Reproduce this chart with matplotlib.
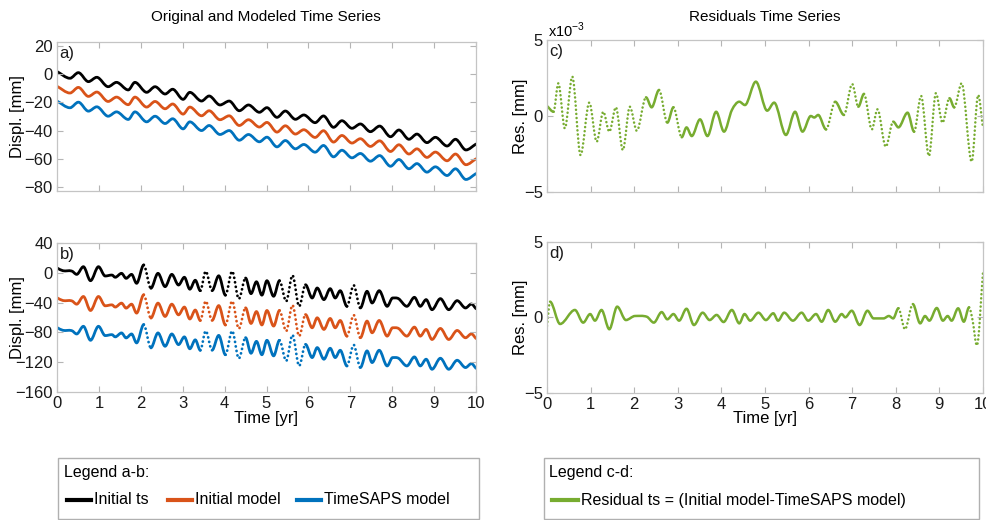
import numpy as np
import matplotlib
matplotlib.use("Agg")
import matplotlib.pyplot as plt
from matplotlib.path import Path
from matplotlib.patches import PathPatch, Rectangle
from matplotlib.lines import Line2D

plt.rcParams['font.family'] = ['Liberation Sans', 'DejaVu Sans']

# ---- values (turning points of each curve) ----
# a) initial ts [mm]; the two models are the same curve shifted down
time_a = [0.00, 0.31, 0.51, 0.75, 0.95, 1.22, 1.42, 1.70, 1.86, 2.14, 2.34, 2.58,
          2.76, 3.01, 3.17, 3.45, 3.63, 3.89, 4.11, 4.35, 4.57, 4.83, 5.01, 5.25,
          5.45, 5.69, 5.89, 6.16, 6.36, 6.60, 6.80, 7.04, 7.24, 7.48, 7.70, 7.96,
          8.16, 8.40, 8.59, 8.83, 9.03, 9.31, 9.51, 9.76, 10.0]
ts_a = [2.0, -2.8, 1.2, -5.2, -2.1, -8.8, -5.7, -11.1, -5.7, -12.8, -8.8, -14.0,
        -10.6, -17.8, -12.8, -19.0, -15.4, -21.8, -19.0, -25.9, -21.8, -27.0, -23.7, -30.6,
        -26.1, -32.0, -28.9, -34.4, -29.6, -37.7, -33.0, -38.4, -35.3, -40.8, -36.8, -44.4,
        -39.6, -46.2, -42.5, -48.6, -44.8, -51.0, -46.2, -53.8, -49.6]
shift_a = [0, -10.5, -21]

# b) initial ts [mm]
time_b = [0.00, 0.14, 0.35, 0.47, 0.63, 0.80, 0.99, 1.15, 1.31, 1.39, 1.54, 1.65,
          1.78, 1.90, 2.07, 2.24, 2.41, 2.58, 2.74, 2.90, 3.04, 3.17, 3.30, 3.42,
          3.55, 3.70, 3.86, 4.02, 4.18, 4.34, 4.50, 4.63, 4.76, 4.89, 5.01, 5.17,
          5.31, 5.47, 5.62, 5.78, 5.93, 6.09, 6.21, 6.37, 6.52, 6.64, 6.76, 6.92,
          7.08, 7.24, 7.40, 7.52, 7.69, 7.88, 8.01, 8.15, 8.35, 8.53, 8.67, 8.81,
          8.95, 9.15, 9.35, 9.55, 9.75, 9.89, 10.0]
ts_b = [6.5, 2.8, 2.4, -2.1, 8.2, -10.6, 8.2, -4.3, -3.0, -6.0, -0.7, -7.4,
        -2.1, -14.1, 10.5, -20.8, -0.7, -18.6, -2.1, -16.4, -6.0, -22.0, -10.0, -24.0,
        2.0, -24.0, -4.0, -30.0, 2.0, -35.0, -7.0, -28.0, -12.0, -30.0, -10.6, -31.5,
        -10.6, -38.3, -3.4, -45.0, -16.0, -33.8, -20.4, -36.0, -21.3, -33.8, -24.0, -45.0,
        -16.8, -47.2, -24.8, -40.5, -24.0, -45.0, -33.8, -34.7, -45.0, -32.9, -45.0, -36.0,
        -49.5, -34.7, -49.5, -37.4, -47.2, -41.9, -48.2]
shift_b = [0, -40, -80]

# c) residual ts [x10^-3 mm]
time_c = [0.00, 0.15, 0.26, 0.41, 0.58, 0.77, 0.97, 1.14, 1.29, 1.43, 1.58, 1.74,
          1.90, 2.06, 2.27, 2.40, 2.57, 2.76, 2.90, 3.09, 3.20, 3.32, 3.51, 3.68,
          3.88, 4.06, 4.24, 4.41, 4.54, 4.79, 5.05, 5.21, 5.48, 5.69, 5.86, 6.05,
          6.13, 6.22, 6.40, 6.61, 6.81, 7.00, 7.14, 7.27, 7.45, 7.58, 7.77, 7.94,
          8.06, 8.27, 8.42, 8.58, 8.76, 8.92, 9.07, 9.23, 9.34, 9.51, 9.74, 9.89, 10.0]
res_c = [0.66, 0.28, 2.15, -0.81, 2.59, -2.57, 0.88, -1.69, 0.28, -1.03, 0.57, -2.24,
         0.61, -0.97, 1.23, 0.57, 1.71, -0.44, 0.57, -1.40, -0.75, -1.32, -0.22, -1.32,
         0.28, -1.03, 0.39, 0.94, 0.72, 2.26, 0.35, 0.88, -1.25, 0.28, -1.03, 0.00,
         -0.10, 0.07, -0.88, 0.94, 0.07, 2.10, 0.61, 1.45, -0.88, 0.44, -2.02, -0.37,
         -0.75, 0.22, -1.03, 1.32, -2.63, 1.50, -0.44, 1.17, 0.57, 2.15, -3.00, 1.38, -0.81]

# d) residual ts [mm]
time_d = [0.00, 0.07, 0.30, 0.64, 0.83, 0.99, 1.10, 1.25, 1.43, 1.61, 1.81, 2.02,
          2.29, 2.45, 2.63, 2.76, 2.90, 3.03, 3.20, 3.37, 3.57, 3.73, 3.89, 4.05,
          4.24, 4.41, 4.53, 4.66, 4.85, 5.02, 5.19, 5.30, 5.44, 5.64, 5.84, 5.99,
          6.17, 6.30, 6.45, 6.61, 6.76, 6.84, 6.99, 7.17, 7.35, 7.49, 7.72, 7.84,
          7.94, 8.06, 8.21, 8.39, 8.56, 8.67, 8.77, 8.94, 9.08, 9.19, 9.28, 9.43,
          9.56, 9.68, 9.76, 9.86, 10.0]
res_d = [-0.56, 1.05, -0.43, 0.50, -0.34, 0.23, -0.21, 0.50, -0.78, 0.72, -0.17, 0.10,
         0.05, -0.34, 0.36, -0.12, 0.23, -0.21, 0.58, -0.50, 0.32, -0.17, 0.17, -0.30,
         0.50, -0.39, 0.23, -0.21, 0.32, -0.17, 0.28, -0.21, 0.32, -0.21, 0.32, -0.21,
         0.23, -0.28, 0.50, -0.28, 0.23, 0.01, 0.45, -0.50, 0.45, -0.06, -0.06, 0.10,
         -0.06, 0.61, -0.78, 0.89, -0.39, 0.10, -0.21, 0.63, -0.21, 0.10, -0.21, 0.61,
         -0.28, 0.67, -0.17, -1.85, 3.00]

names_ab = ['Initial ts', 'Initial model', 'TimeSAPS model']
colors_ab = ['#000000', '#D95319', '#0072BD']
name_cd = 'Residual ts = (Initial model-TimeSAPS model)'
color_cd = '#77AC30'

W, H = 987, 520


def slopes(t, v):
    n = len(t)
    m = np.zeros(n)
    for i in range(n):
        if i == 0:
            m[i] = (v[1] - v[0]) / (t[1] - t[0])
        elif i == n - 1:
            m[i] = (v[-1] - v[-2]) / (t[-1] - t[-2])
        elif (v[i] - v[i - 1]) * (v[i + 1] - v[i]) <= 0:
            m[i] = 0.0
        else:
            m[i] = (v[i + 1] - v[i - 1]) / (t[i + 1] - t[i - 1])
    return m


def trace(ax, t, v, color, lw, steep=3.0):
    # smooth curve through the turning points; steep parts dotted like the sampled original
    t = np.asarray(t, float)
    v = np.asarray(v, float)
    m = slopes(t, v)
    p0 = ax.transData.transform((0, 0))
    p1 = ax.transData.transform((1, 1))
    sx, sy = abs(p1[0] - p0[0]), abs(p1[1] - p0[1])
    groups = []
    for i in range(len(t) - 1):
        dt = t[i + 1] - t[i]
        pts = [(t[i], v[i]), (t[i] + dt / 3, v[i] + m[i] * dt / 3),
               (t[i + 1] - dt / 3, v[i + 1] - m[i + 1] * dt / 3), (t[i + 1], v[i + 1])]
        dotted = abs(v[i + 1] - v[i]) * sy / (dt * sx) > steep
        if groups and groups[-1][0] == dotted:
            groups[-1][1].extend(pts[1:])
        else:
            groups.append([dotted, pts])
    for dotted, verts in groups:
        codes = [Path.MOVETO] + [Path.CURVE4] * (len(verts) - 1)
        ls = (0, (0.05, 1.6)) if dotted else '-'
        ax.add_patch(PathPatch(Path(verts, codes), fill=False, edgecolor=color, lw=lw,
                               linestyle=ls, capstyle='round', joinstyle='round'))


def box(l, t, r, b):
    return [l / W, 1 - b / H, (r - l) / W, (b - t) / H]


fig = plt.figure(figsize=(W / 100, H / 100), dpi=100)
ax_a = fig.add_axes(box(57, 42, 476, 191))
ax_b = fig.add_axes(box(57, 243, 476, 392))
ax_c = fig.add_axes(box(547, 40, 983, 192))
ax_d = fig.add_axes(box(547, 242, 983, 393))

for ax in [ax_a, ax_b, ax_c, ax_d]:
    ax.set_xlim(0, 10)
    ax.set_xticks(range(11))
    ax.tick_params(direction='in', top=True, right=True, length=4, width=0.8,
                   color='#b5b5b5', labelsize=12, labelcolor='#1a1a1a', pad=3)
    for s in ax.spines.values():
        s.set_color('#c4c4c4')
        s.set_linewidth(0.9)

ax_a.set_ylim(-83, 23)
ax_a.set_yticks(range(-80, 21, 20))
ax_b.set_ylim(-160, 40)
ax_b.set_yticks(range(-160, 41, 40))
for ax in [ax_c, ax_d]:
    ax.set_ylim(-5, 5)
    ax.set_yticks([-5, 0, 5])
ax_a.tick_params(labelbottom=False)
ax_c.tick_params(labelbottom=False)

for k in range(3):
    trace(ax_a, time_a, np.array(ts_a) + shift_a[k], colors_ab[k], 2.0)
    trace(ax_b, time_b, np.array(ts_b) + shift_b[k], colors_ab[k], 2.0)
trace(ax_c, time_c, res_c, color_cd, 1.8)
trace(ax_d, time_d, res_d, color_cd, 1.8)

for ax, lab in zip([ax_a, ax_b, ax_c, ax_d], ['a)', 'b)', 'c)', 'd)']):
    ax.text(0.006, 0.975, lab, transform=ax.transAxes, ha='left', va='top',
            fontsize=12, color='#1a1a1a')


def ftext(x, y, s, **kw):
    fig.text(x / W, 1 - y / H, s, **kw)


ftext(266, 17, 'Original and Modeled Time Series', ha='center', va='center', fontsize=11)
ftext(765, 17, 'Residuals Time Series', ha='center', va='center', fontsize=11)
for yc in [116.5, 317.5]:
    ftext(18, yc, 'Displ. [mm]', ha='center', va='center', rotation=90, fontsize=12)
    ftext(521, yc, 'Res. [mm]', ha='center', va='center', rotation=90, fontsize=12)
ftext(266, 419, 'Time [yr]', ha='center', va='center', fontsize=12)
ftext(765, 419, 'Time [yr]', ha='center', va='center', fontsize=12)
ftext(548, 37, r'x10$^{\mathregular{-3}}$', ha='left', va='baseline', fontsize=10.5)

# legend boxes (drawn in pixels of the figure)
edge = '#b0b0b0'
fig.add_artist(Rectangle((58 / W, 1 - 519 / H), (479 - 58) / W, (519 - 458) / H,
                         transform=fig.transFigure, fill=False, edgecolor=edge, lw=1))
fig.add_artist(Rectangle((544 / W, 1 - 519 / H), (979 - 544) / W, (519 - 458) / H,
                         transform=fig.transFigure, fill=False, edgecolor=edge, lw=1))
ftext(64, 472, 'Legend a-b:', ha='left', va='center', fontsize=11.5)
ftext(549, 472, 'Legend c-d:', ha='left', va='center', fontsize=11.5)

handle_x = [67, 168, 297]
for k in range(3):
    x0 = handle_x[k]
    fig.add_artist(Line2D([x0 / W, (x0 + 24) / W], [1 - 500 / H] * 2,
                          transform=fig.transFigure, color=colors_ab[k], lw=3))
    ftext(x0 + 27, 500, names_ab[k], ha='left', va='center', fontsize=11.5)
fig.add_artist(Line2D([552 / W, 578 / W], [1 - 500 / H] * 2,
                      transform=fig.transFigure, color=color_cd, lw=3))
ftext(581, 500, name_cd, ha='left', va='center', fontsize=11.5)

fig.savefig('out.png', dpi=100)
